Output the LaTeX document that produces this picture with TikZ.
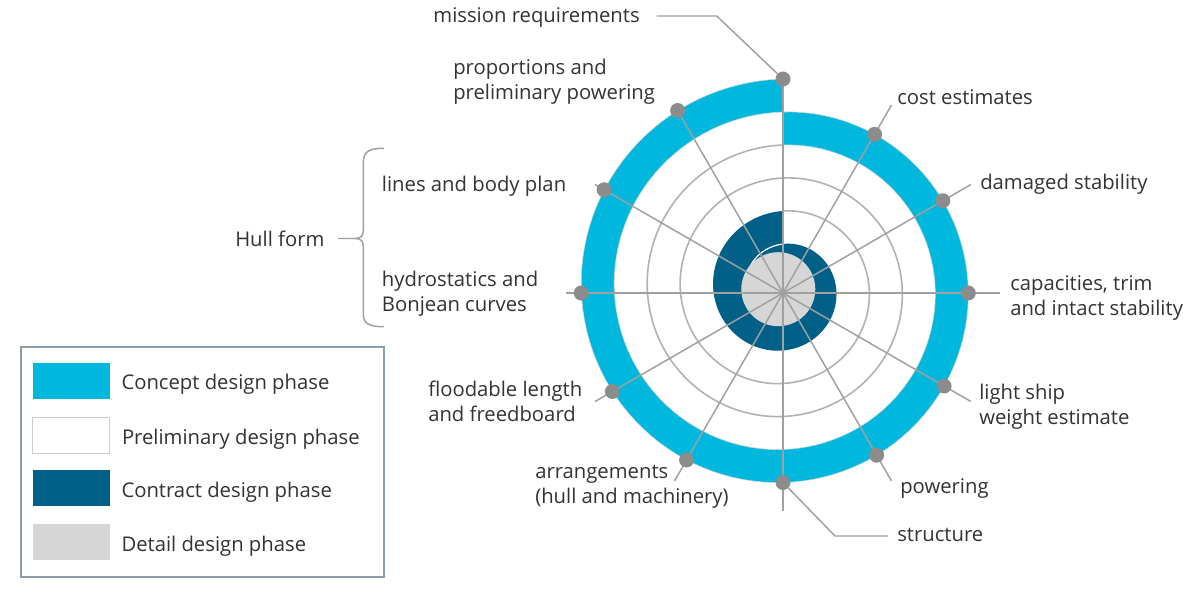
\documentclass[tikz,border=0pt]{standalone}
\usepackage{fontspec}
\setmainfont{Open Sans}
\usepackage{tikz}
\usetikzlibrary{calc, positioning}

\definecolor{concept}{RGB}{0,184,222}
\definecolor{contract}{RGB}{0,96,136}
\definecolor{detail}{RGB}{214,214,214}
\definecolor{dotgray}{RGB}{140,140,140}
\definecolor{ringgray}{RGB}{178,178,178}
\definecolor{spokegray}{RGB}{160,160,160}
\definecolor{txt}{RGB}{51,51,51}
\definecolor{legendgray}{RGB}{140,158,172}

\begin{document}
\begin{tikzpicture}[x=0.75pt, y=-0.75pt,
    declare function={sx(\r,\a)=783+(\r+\a/360*33)*sin(\a); sy(\r,\a)=289-(\r+\a/360*33)*cos(\a);},
    lbl/.style={font=\fontsize{15.2}{18.75}\selectfont, text=txt, inner sep=0pt, align=left},
    dot/.style={circle, fill=dotgray, inner sep=0pt, minimum size=11.25pt},
    spoke/.style={draw=spokegray, line width=1.1pt},
    ringline/.style={draw=ringgray, line width=1.2pt},
    swatch/.style={minimum width=57.75pt, minimum height=27pt, inner sep=0pt, anchor=north west},
]
\useasboundingbox (0,0) rectangle (1199,606);
\fill[white] (0,0) rectangle (1199,606);

% spiral
\filldraw[fill=concept, draw=gray!35, line width=0.4pt]
    plot[domain=0:360, samples=121] ({sx(177,\x)},{sy(177,\x)})
    -- plot[domain=360:0, samples=121] ({sx(144,\x)},{sy(144,\x)}) -- cycle;
\fill[contract] plot[domain=0:360, samples=121] ({sx(45,\x)},{sy(45,\x)}) -- cycle;
\draw[white, line width=0.9pt] plot[domain=-60:0, samples=21] ({sx(45,\x)},{sy(45,\x)});
\fill[detail] (778.3,289.2) circle[radius=37];
\draw[ringline] plot[domain=360:1080, samples=241] ({sx(45,\x)},{sy(45,\x)});

\coordinate (O) at (783,293);
\foreach \t in {0,30,60,120,150}
    \draw[spoke] ($(O)+(\t:217)$) -- ($(O)+(\t+180:217)$);
\draw[spoke] ($(O)+(0,-214)$) -- ($(O)+(0,218)$);

\foreach \k in {1,...,12}{
    \pgfmathsetmacro\rr{177+33*\k/12+4*cos(30*\k)}
    \node[dot] (D\k) at ($(O)+({30*\k-90}:\rr)$) {};
}

% labels
\node[lbl, anchor=base east] (MIS) at (640,22.7) {mission requirements};
\node[lbl, anchor=base west] (PRO) at (453,100) {proportions and\\preliminary powering};
\node[lbl, anchor=base west] (COST) at (897,105) {cost estimates};
\node[lbl, anchor=base west] (DAM) at (980,189.3) {damaged stability};
\node[lbl, anchor=base west] (CAP) at (1010,315) {capacities, trim\\and intact stability};
\node[lbl, anchor=base west] (LSW) at (979,424.5) {light ship\\weight estimate};
\node[lbl, anchor=base west] (POW) at (900,493.3) {powering};
\node[lbl, anchor=base west] (STR) at (897,541.7) {structure};
\node[lbl, anchor=base west] (ARR) at (535,503) {arrangements\\(hull and machinery)};
\node[lbl, anchor=base west] (FLO) at (428,421) {floodable length\\and freedboard};
\node[lbl, anchor=base west] (HYD) at (381.7,311.7) {hydrostatics and\\Bonjean curves};
\node[lbl, anchor=base west] (LIN) at (381.7,191.7) {lines and body plan};
\node[lbl, anchor=base west] (HULL) at (235,246) {Hull form};

\coordinate (MISk) at (716.7,16);
\coordinate (STRk) at (835,536);
\draw[spoke] (D12) -- (MISk) -- ($(MIS.base east)+(16.7,-6.7)$);
\draw[spoke] (D6) -- (STRk) -- ($(STR.base west)+(-9,-5.7)$);

% brace
\coordinate (BRtop) at (384,148.3);
\coordinate (BRtip) at (338,238.5);
\coordinate (BRmid) at (355,238.5);
\coordinate (BRbot) at (384,326.7);
\draw[spoke] (BRtop) .. controls (368,148.3) and (363.3,152) .. (363.3,163) -- (363.3,230)
    .. controls (363.3,236) and (361,238.5) .. (BRmid) -- (BRtip);
\draw[spoke] (BRmid) .. controls (361,238.5) and (363.3,241) .. (363.3,247) -- (363.3,314)
    .. controls (363.3,323) and (368,326.7) .. (BRbot);

% legend
\draw[legendgray, line width=1.5pt] (20.7,346.7) rectangle (384,577.3);
\node[swatch, fill=concept] (SW1) at (32.3,362.7) {};
\node[swatch, fill=white, draw=gray!40, line width=0.8pt] (SW2) at (32.3,416.7) {};
\node[swatch, fill=contract] (SW3) at (32.3,470) {};
\node[swatch, fill=detail] (SW4) at (32.3,524) {};
\node[lbl, anchor=base west] (T1) at ($(SW1.east)+(11.4,8.8)$) {Concept design phase};
\node[lbl, anchor=base west] (T2) at ($(SW2.east)+(11.4,8.8)$) {Preliminary design phase};
\node[lbl, anchor=base west] (T3) at ($(SW3.east)+(11.4,8.8)$) {Contract design phase};
\node[lbl, anchor=base west] (T4) at ($(SW4.east)+(11.4,8.8)$) {Detail design phase};
\end{tikzpicture}
\end{document}
